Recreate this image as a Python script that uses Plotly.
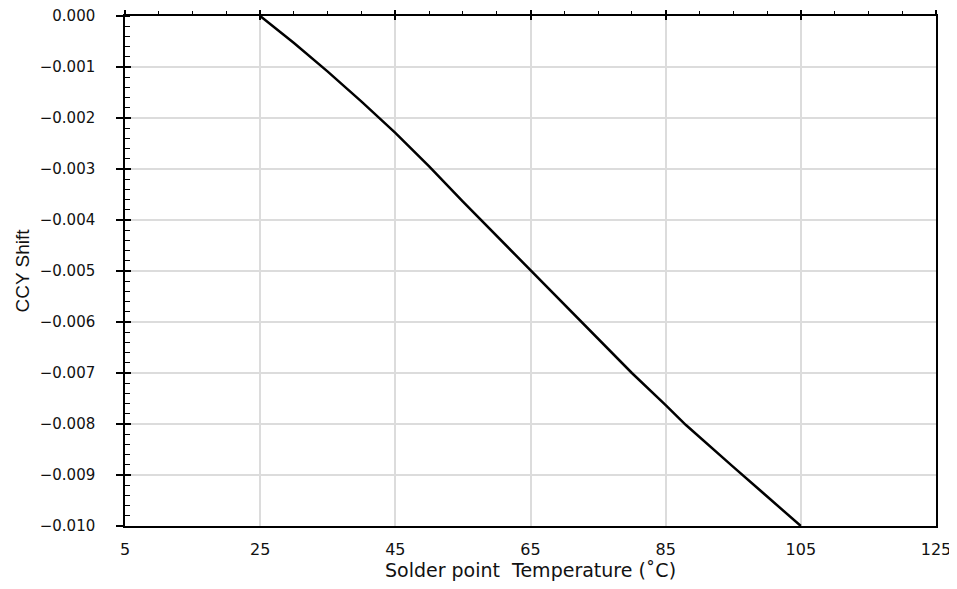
import plotly.graph_objects as go

temp_c = [25, 30, 35, 40, 45, 50, 55, 60, 65, 70, 75, 80, 85, 88, 95, 100, 105]
ccy_shift = [0.0, -0.00053, -0.00109, -0.00168, -0.00229, -0.00295, -0.00364, -0.00431,
             -0.00498, -0.00565, -0.00632, -0.00700, -0.00763, -0.00802, -0.00884,
             -0.00942, -0.0100]

x_range = [5, 125]
y_range = [-0.010, 0.0]
x_title = "Solder point \u00a0Temperature (˚C)"
y_title = "CCY Shift"

x_tick_font = dict(family="DejaVu Sans", size=16, color="#111")
y_tick_font = dict(family="DejaVu Sans", size=15, color="#111")

fig = go.Figure()
fig.add_trace(go.Scatter(x=temp_c, y=ccy_shift, mode="lines",
                         line=dict(color="black", width=2.5), showlegend=False,
                         hoverinfo="skip"))
# empty traces so the overlay tick axes are drawn
fig.add_trace(go.Scatter(x=[], y=[], xaxis="x2", yaxis="y2", showlegend=False))
fig.add_trace(go.Scatter(x=[], y=[], xaxis="x3", yaxis="y3", showlegend=False))

# page body has an 8px margin
fig.update_layout(
    width=949, height=581,
    margin=dict(l=117, r=21, t=8, b=63),
    paper_bgcolor="white", plot_bgcolor="white",
    xaxis=dict(range=x_range, tick0=5, dtick=20, showgrid=True, gridcolor="#dcdcdc",
               gridwidth=1.5, zeroline=False, showline=True, linecolor="black",
               linewidth=1.5, ticks="", tickfont=x_tick_font, ticklabelstandoff=8,
               automargin=False, ticklabeloverflow="allow",
               title=dict(text=x_title, font=dict(family="DejaVu Sans", size=19, color="#111"),
                          standoff=4)),
    yaxis=dict(range=y_range, dtick=0.001, tickformat=".3f", ticksuffix="\u00a0",
               showgrid=True,
               gridcolor="#dcdcdc", gridwidth=1.5, zeroline=False, showline=True,
               linecolor="black", linewidth=2, mirror=True, ticks="outside", ticklen=7,
               tickwidth=1.5, tickcolor="black", tickfont=y_tick_font, ticklabelstandoff=13,
               automargin=False, ticklabeloverflow="allow",
               minor=dict(dtick=0.0002, ticks="inside", ticklen=5, tickwidth=1.2,
                          tickcolor="black", showgrid=False),
               title=dict(text=y_title, font=dict(family="Liberation Sans", size=19, color="#111"),
                          standoff=5)),
    xaxis2=dict(range=x_range, tick0=5, dtick=20, overlaying="x", side="top",
                anchor="y2", showgrid=False, zeroline=False, showline=True,
                linecolor="black", linewidth=2, ticks="outside", ticklen=4, tickwidth=1.5,
                tickcolor="black", showticklabels=False, automargin=False,
                minor=dict(dtick=5, ticks="outside", ticklen=3, tickwidth=1.2,
                           tickcolor="black", showgrid=False)),
    xaxis3=dict(range=x_range, tick0=5, dtick=20, overlaying="x", side="top",
                anchor="y3", showgrid=False, zeroline=False, showline=False,
                ticks="inside", ticklen=4, tickwidth=1.5, tickcolor="black",
                showticklabels=False, automargin=False),
    yaxis2=dict(range=y_range, overlaying="y", side="left", anchor="x2", showgrid=False,
                zeroline=False, showline=False, showticklabels=False, ticks="",
                automargin=False),
    yaxis3=dict(range=y_range, dtick=0.001, overlaying="y", side="left", anchor="x3",
                showgrid=False, zeroline=False, showline=False, showticklabels=False,
                ticks="inside", ticklen=6, tickwidth=1.5, tickcolor="black",
                automargin=False),
)

fig.write_html("out.html")
